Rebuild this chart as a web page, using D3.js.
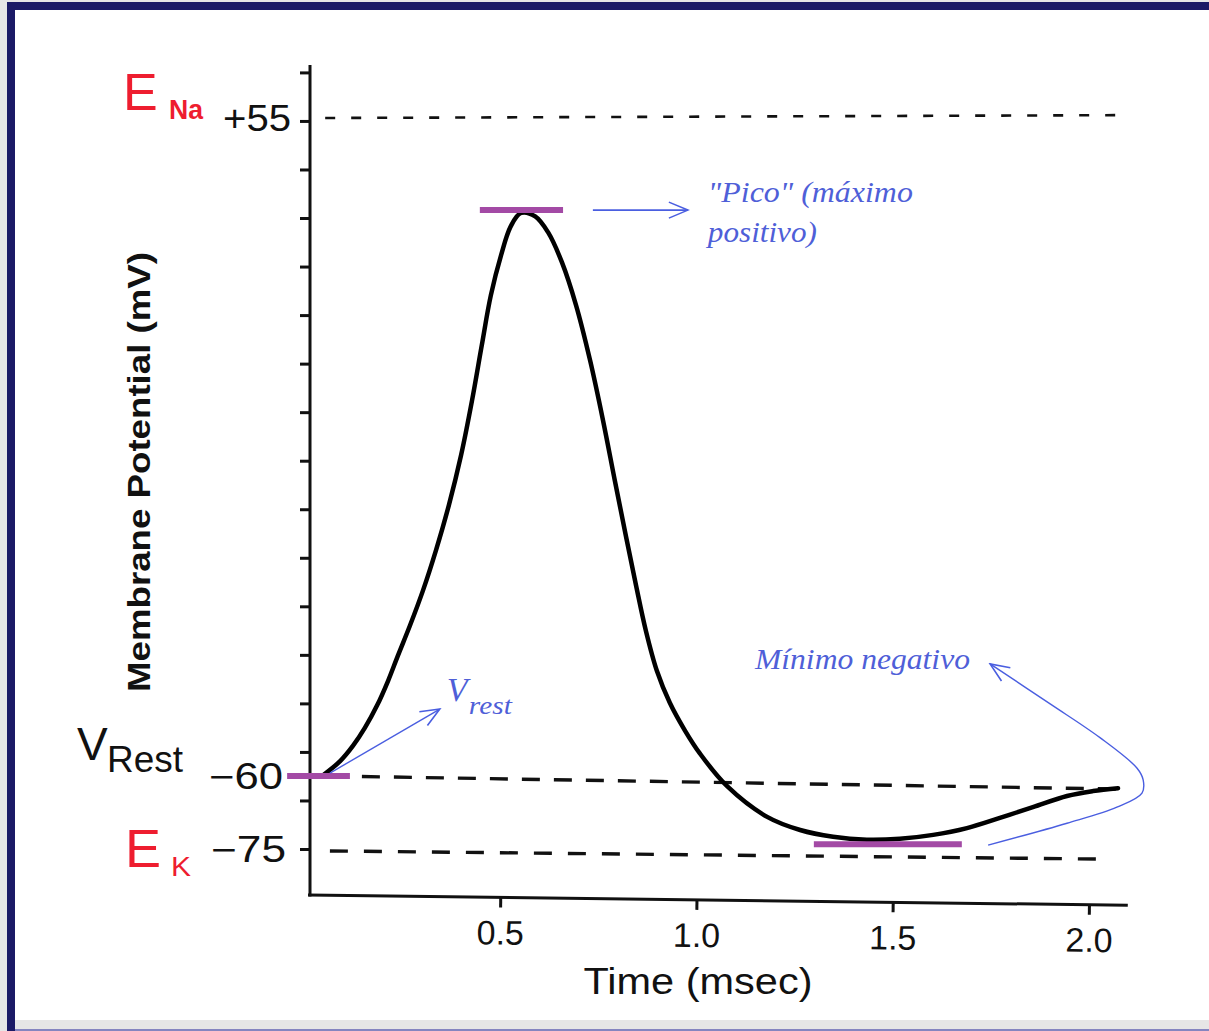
<!DOCTYPE html>
<html><head><meta charset="utf-8">
<script src="https://cdn.jsdelivr.net/npm/d3@7"></script>
<style>
html,body{margin:0;padding:0;background:#e6e6e6;}
svg{display:block;}
</style></head><body>
<svg id="c" width="1209" height="1031"></svg>
<script>
// ---- data ----
const timeMs = [0.046,0.092,0.125,0.155,0.186,0.214,0.239,0.270,0.303,0.336,0.369,0.400,0.428,0.453,0.476,0.502,0.527,0.553,0.589,0.622,0.657,0.693,0.729,0.762,0.792,0.820,0.846,0.871,0.899,0.932,0.971,1.009,1.078,1.180,1.264,1.348,1.434,1.518,1.603,1.689,1.773,1.857,1.944,2.010,2.074];
const membraneMv = [-60.0,-57.4,-54.7,-51.6,-47.7,-43.4,-39.0,-33.7,-27.6,-20.6,-12.7,-4.0,5.6,15.3,24.0,31.0,36.1,38.4,37.8,35.0,29.8,22.3,12.6,2.1,-8.4,-18.0,-26.7,-34.6,-41.6,-47.2,-52.1,-56.1,-62.1,-68.4,-71.1,-72.5,-73.1,-72.9,-72.1,-70.7,-68.6,-66.4,-64.1,-63.1,-62.5];
const xTickValues = [0.5,1.0,1.5,2.0];
const xTickLabels = ["0.5","1.0","1.5","2.0"];
const yLabelValues = [55,-60,-75];
const yLabelTexts = ["+55","\u221260","\u221275"];
// reference lines (E_Na, V_rest, E_K); the scanned original is slightly skewed
const refLineStartMv = [55,-60,-75.4];
const refLineEndMv = [55.5,-62.7,-77.1];
const refLineStart = [0.054,0.066,0.066];
const refLineEnd = [2.079,2.084,2.053];
const highlightStart = [-0.043,0.448,1.299];
const highlightEnd = [0.117,0.660,1.676];
const highlightValue = [-60,38.9,-74.0];
const picoArrow = [[0.736,38.9],[0.978,38.9]];
const vrestArrow = [[0.066,-59.5],[0.346,-48.3]];
const minArrow = [[1.743,-74.2],[1.944,-69.7],[2.071,-66.4],[2.135,-63.5],[2.138,-60.8],[2.122,-58.6],[2.028,-53.3],[1.901,-47.4],[1.748,-40.4]];

const svg = d3.select("#c");
// frame
svg.append("rect").attr("x",0).attr("y",0).attr("width",1209).attr("height",1031).attr("fill","#e6e6e6");
svg.append("rect").attr("x",15).attr("y",10).attr("width",1194).attr("height",1010).attr("fill","#ffffff");
svg.append("rect").attr("x",7).attr("y",2).attr("width",8).attr("height",1029).attr("fill","#1b1a66");
svg.append("rect").attr("x",7).attr("y",2).attr("width",1202).attr("height",8).attr("fill","#1b1a66");
svg.append("rect").attr("x",15).attr("y",1029).attr("width",1194).attr("height",2).attr("fill","#8585c0");

// scales
const x = d3.scaleLinear().domain([0,2]).range([304,1089]);
const y = d3.scaleLinear().domain([-84.5,-75,-60,55,64.3]).range([895,849,776,118,65]);
const axisX0 = 310;

// defs: open arrowhead
const defs = svg.append("defs");
defs.append("marker").attr("id","ah").attr("markerUnits","userSpaceOnUse")
  .attr("viewBox","-1 -10 24 20").attr("markerWidth",24).attr("markerHeight",20)
  .attr("refX",21).attr("refY",0).attr("orient","auto")
  .append("path").attr("d","M2,-8 L21,0 L2,8").attr("fill","none").attr("stroke","#4a5ee0").attr("stroke-width",1.6);

// reference dashed lines
const dashes = ["10 16","18 14","18 16"];
svg.append("g").selectAll("line").data(refLineStartMv).join("line")
  .attr("x1",(d,i)=>x(refLineStart[i])).attr("x2",(d,i)=>x(refLineEnd[i]))
  .attr("y1",d=>y(d)).attr("y2",(d,i)=>y(refLineEndMv[i]))
  .attr("stroke","#111").attr("stroke-width",(d,i)=>i===0?2.6:3.4)
  .attr("stroke-dasharray",(d,i)=>dashes[i]);

// y axis (minor ticks)
const tickScale = d3.scaleLinear().domain([0,16]).range([y(-75),y(63)]);
const gy = svg.append("g").attr("transform",`translate(${axisX0},0)`)
  .call(d3.axisLeft(tickScale).tickValues(d3.range(17)).tickFormat("").tickSize(10).tickSizeOuter(0));
gy.select(".domain").remove();
gy.selectAll(".tick line").attr("stroke","#111").attr("stroke-width",3);
svg.append("line").attr("x1",axisX0).attr("x2",axisX0).attr("y1",y(64.3)).attr("y2",y(-84.5)+1.5)
  .attr("stroke","#111").attr("stroke-width",3);

// x axis (slightly tilted like the scan)
const gx = svg.append("g").attr("transform",`translate(0,${y(-84.5)}) rotate(0.72,${axisX0},0)`)
  .call(d3.axisBottom(x).tickValues(xTickValues).tickFormat((d,i)=>xTickLabels[i]).tickSize(10).tickPadding(13).tickSizeOuter(0));
gx.select(".domain").remove();
gx.selectAll(".tick line").attr("stroke","#111").attr("stroke-width",3);
gx.selectAll(".tick text").attr("fill","#111").attr("font-family","Liberation Sans, Arial, sans-serif").attr("font-size",34);
gx.append("line").attr("x1",axisX0-2).attr("x2",x(2.099)).attr("y1",0).attr("y2",0)
  .attr("stroke","#111").attr("stroke-width",3);

// y labels
const yLabelX = [291,283,286];
const yLabelW = [68,74,75];
svg.append("g").selectAll("text").data(yLabelValues).join("text")
  .attr("x",(d,i)=>yLabelX[i]).attr("y",d=>y(d)).attr("dy","0.36em")
  .attr("text-anchor","end").attr("font-family","Liberation Sans, Arial, sans-serif").attr("font-size",36)
  .attr("fill","#111").attr("textLength",(d,i)=>yLabelW[i]).attr("lengthAdjust","spacingAndGlyphs")
  .text((d,i)=>yLabelTexts[i]);

// axis titles
svg.append("text").attr("transform","translate(150,472) rotate(-90)").attr("text-anchor","middle")
  .attr("font-family","Liberation Sans, Arial, sans-serif").attr("font-weight","bold").attr("font-size",32)
  .attr("fill","#111").attr("textLength",440).attr("lengthAdjust","spacingAndGlyphs")
  .text("Membrane Potential (mV)");
svg.append("text").attr("x",698).attr("y",994).attr("text-anchor","middle")
  .attr("font-family","Liberation Sans, Arial, sans-serif").attr("font-size",36)
  .attr("fill","#111").attr("textLength",229).attr("lengthAdjust","spacingAndGlyphs")
  .text("Time (msec)");

// V_Rest, E_Na, E_K labels
const vr = svg.append("text").attr("font-family","Liberation Sans, Arial, sans-serif").attr("fill","#111");
vr.append("tspan").attr("x",77).attr("y",760).attr("font-size",46).text("V");
vr.append("tspan").attr("x",107).attr("y",772).attr("font-size",36).attr("textLength",76).attr("lengthAdjust","spacingAndGlyphs").text("Rest");
const red = "#ee1d2f";
const ena = svg.append("text").attr("font-family","Liberation Sans, Arial, sans-serif").attr("fill",red);
ena.append("tspan").attr("x",123).attr("y",110).attr("font-size",52).text("E");
ena.append("tspan").attr("x",169).attr("y",119).attr("font-size",27).attr("font-weight","bold").attr("textLength",34).attr("lengthAdjust","spacingAndGlyphs").text("Na");
const ek = svg.append("text").attr("font-family","Liberation Sans, Arial, sans-serif").attr("fill",red);
ek.append("tspan").attr("x",125).attr("y",867).attr("font-size",54).text("E");
ek.append("tspan").attr("x",171).attr("y",876).attr("font-size",28).attr("textLength",20).attr("lengthAdjust","spacingAndGlyphs").text("K");

// action potential curve
const pts = timeMs.map((t,i)=>[t,membraneMv[i]]);
svg.append("path").datum(pts)
  .attr("d",d3.line().x(d=>x(d[0])).y(d=>y(d[1])).curve(d3.curveCatmullRom.alpha(0.5)))
  .attr("fill","none").attr("stroke","#000").attr("stroke-width",4.5).attr("stroke-linecap","round");

// purple highlight bars
svg.append("g").selectAll("line").data(highlightValue).join("line")
  .attr("x1",(d,i)=>x(highlightStart[i])).attr("x2",(d,i)=>x(highlightEnd[i]))
  .attr("y1",d=>y(d)).attr("y2",d=>y(d))
  .attr("stroke","#a34aa5").attr("stroke-width",6);

// blue arrows
const blue = "#4a5ee0";
const ln = d3.line().x(d=>x(d[0])).y(d=>y(d[1]));
svg.append("path").datum(picoArrow).attr("d",ln).attr("fill","none").attr("stroke",blue).attr("stroke-width",1.6).attr("marker-end","url(#ah)");
svg.append("path").datum(vrestArrow).attr("d",ln).attr("fill","none").attr("stroke",blue).attr("stroke-width",1.4).attr("marker-end","url(#ah)");
svg.append("path").datum(minArrow).attr("d",d3.line().x(d=>x(d[0])).y(d=>y(d[1])).curve(d3.curveCatmullRom.alpha(0.5)))
  .attr("fill","none").attr("stroke",blue).attr("stroke-width",1.4).attr("marker-end","url(#ah)");

// blue annotation texts
const tcol = "#4f5fd8";
const serif = "Liberation Serif, Times New Roman, serif";
svg.append("text").attr("x",x(1.029)).attr("y",y(40.3)).attr("font-family",serif).attr("font-style","italic")
  .attr("font-size",29).attr("fill",tcol).attr("textLength",205).attr("lengthAdjust","spacingAndGlyphs").text("\"Pico\" (máximo");
svg.append("text").attr("x",x(1.029)).attr("y",y(33.3)).attr("font-family",serif).attr("font-style","italic")
  .attr("font-size",29).attr("fill",tcol).attr("textLength",109).attr("lengthAdjust","spacingAndGlyphs").text("positivo)");
svg.append("text").attr("x",x(1.149)).attr("y",y(-41.3)).attr("font-family",serif).attr("font-style","italic")
  .attr("font-size",29).attr("fill",tcol).attr("textLength",215).attr("lengthAdjust","spacingAndGlyphs").text("Mínimo negativo");
const vt = svg.append("text").attr("font-family",serif).attr("font-style","italic").attr("fill",tcol);
vt.append("tspan").attr("x",x(0.364)).attr("y",y(-46.9)).attr("font-size",34).text("V");
vt.append("tspan").attr("x",x(0.420)).attr("y",y(-46.9)+13).attr("font-size",26).attr("textLength",43).attr("lengthAdjust","spacingAndGlyphs").text("rest");
</script>
</body></html>
